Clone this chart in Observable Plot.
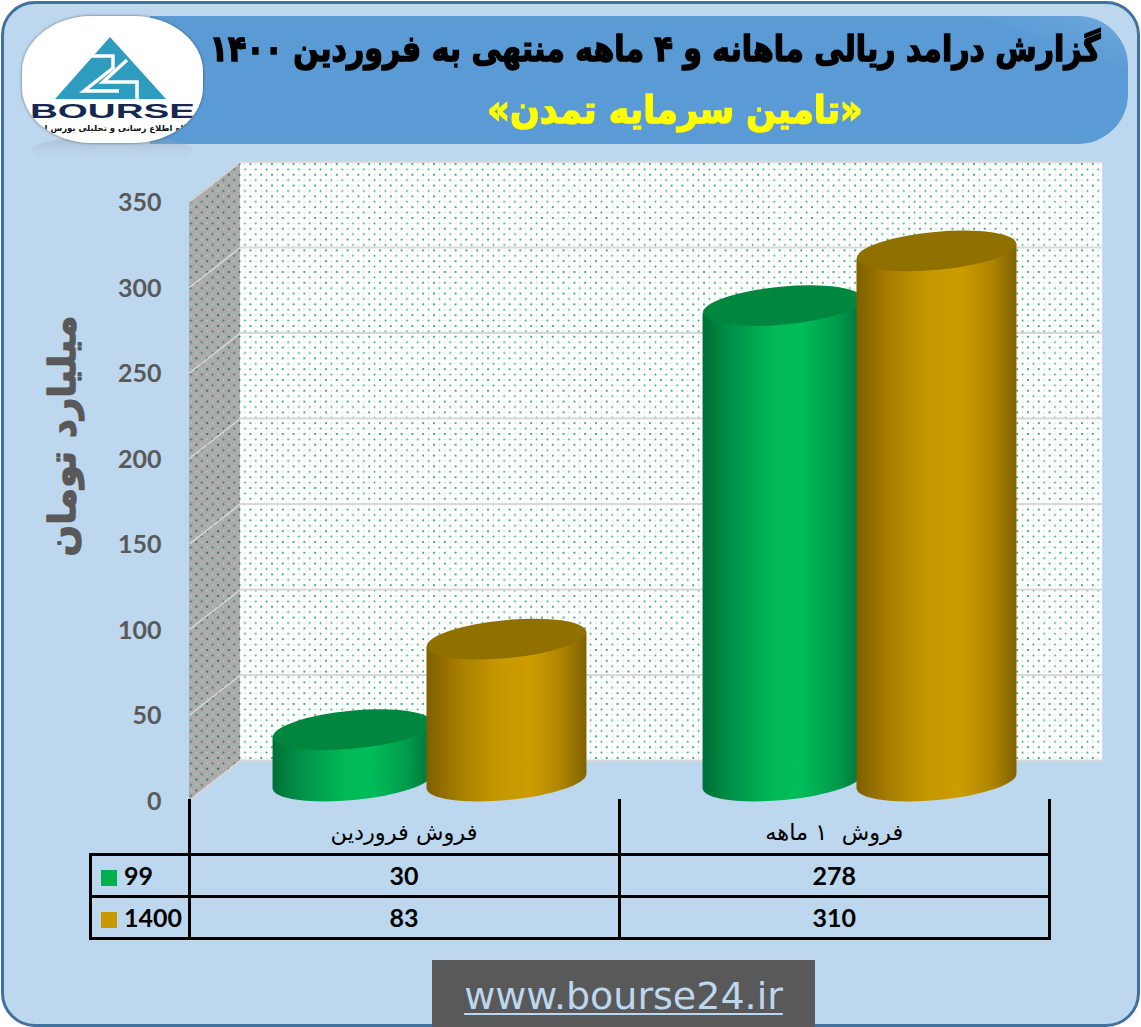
<!DOCTYPE html>
<html lang="fa">
<head>
<meta charset="utf-8">
<script src="https://cdn.jsdelivr.net/npm/d3@7"></script>
<script src="https://cdn.jsdelivr.net/npm/@observablehq/plot@0.6"></script>
<style>
  html,body{margin:0;padding:0;background:#fff;}
  #page{position:relative;width:1141px;height:1027px;overflow:hidden;}
  #panel{position:absolute;left:1px;top:1px;width:1133px;height:1020px;background:#BDD7EE;border:3px solid #41719C;border-radius:34px;}
  #header{position:absolute;left:150px;top:16px;width:978px;height:128px;border-radius:0 50px 50px 0;background:linear-gradient(200deg,#6fa9dd 0%,#5B9BD5 12%,#5B9BD5 100%);}
  #title,#subtitle{position:absolute;margin:0;font-family:"DejaVu Sans",sans-serif;font-weight:700;white-space:nowrap;direction:rtl;text-align:center;}
  #title{left:190px;width:930px;top:27px;font-size:30px;line-height:44px;color:#000;-webkit-text-stroke:1.3px #000;transform:scaleY(1.2);}
  #subtitle{left:443px;width:464px;top:87px;font-size:35px;line-height:46px;color:#FFFF00;-webkit-text-stroke:1.3px #FFFF00;transform:scaleY(1.1);}
  #logo{position:absolute;left:0;top:0;}
  #chart{position:absolute;left:0;top:0;}
  #chart svg{background:transparent;}
  #dataTable{position:absolute;left:89px;top:799px;border-collapse:collapse;table-layout:fixed;width:959px;font-family:Lato,sans-serif;color:#000;}
  #dataTable td{border:3px solid #000;padding:0;text-align:center;font-weight:700;font-size:25px;height:42px;box-sizing:border-box;}
  #dataTable td.key{text-align:left;white-space:nowrap;}
  #dataTable td.key i{display:inline-block;width:16px;height:16px;margin:0 7px 0 9px;vertical-align:-1px;}
  #dataTable tr.cats td{height:55px;border-top:0;font-family:"DejaVu Sans",sans-serif;font-weight:400;font-size:22.5px;direction:rtl;white-space:pre;padding-top:13px;}
  #dataTable tr.cats td.blank{border:0;border-bottom:3px solid #000;border-right:3px solid #000;padding:0;}
  #footer{position:absolute;left:432px;top:960px;width:383px;height:67px;background:#595959;color:#BDD7EE;font-family:"DejaVu Sans",sans-serif;font-size:38px;line-height:72px;text-align:center;}
  #footer span{text-decoration:underline;text-decoration-thickness:2px;text-underline-offset:4px;}
</style>
</head>
<body>
<div id="page">
  <div id="panel"></div>
  <div id="header"></div>
  <svg id="logo" width="230" height="175" viewBox="0 0 230 175">
    <defs>
      <clipPath id="logoClip"><rect x="22" y="16" width="181" height="127" rx="70" ry="56"/></clipPath>
      <linearGradient id="refl" x1="0" y1="0" x2="0" y2="1">
        <stop offset="0" stop-color="#8a9aa8" stop-opacity=".4"/>
        <stop offset="1" stop-color="#BDD7EE" stop-opacity="0"/>
      </linearGradient>
      <filter id="soft"><feDropShadow dx="0" dy="0" stdDeviation="1.5" flood-color="#333" flood-opacity=".7"/></filter>
    </defs>
    <ellipse cx="112" cy="150" rx="80" ry="14" fill="url(#refl)"/>
    <rect x="22" y="16" width="181" height="127" rx="70" ry="56" fill="#fff" filter="url(#soft)"/>
    <g clip-path="url(#logoClip)">
      <path d="M110,37 L166,99 L55,99 Z" fill="#2E9CBE"/>
      <path d="M88,56 L113,56 L113,68 L84,91 L119,91" fill="none" stroke="#fff" stroke-width="3.5"/>
      <path d="M127,60 L103,82 L137,82 L137,99" fill="none" stroke="#fff" stroke-width="3.5"/>
      <text x="30" y="118" textLength="165" lengthAdjust="spacingAndGlyphs" font-family="Liberation Sans" font-weight="700" font-size="20" fill="#16284f">BOURSE</text>
      <text x="112" y="131" text-anchor="middle" direction="rtl" font-family="DejaVu Sans" font-weight="700" font-size="8.5" fill="#111">پایگاه اطلاع رسانی و تحلیلی بورس ایران</text>
    </g>
  </svg>
  <h1 id="title"></h1>
  <h2 id="subtitle"></h2>
  <div id="chart"></div>
  <table id="dataTable"></table>
  <div id="footer"><span id="site"></span></div>
</div>
<script>
const titleText = "گزارش درامد ریالی ماهانه و ۴ ماهه منتهی به فروردین ۱۴۰۰";
const subtitleText = "«تامین سرمایه تمدن»";
const yAxisTitle = "میلیارد تومان";
const siteText = "www.bourse24.ir";
const categories = ["فروش فروردین", "فروش  ۱ ماهه"];
const seriesNames = ["99", "1400"];
const values99 = [30, 278];
const values1400 = [83, 310];
const yTicks = [0, 50, 100, 150, 200, 250, 300, 350];

const green = "#00B050", gold = "#C99A00";

// 3-D look: the wall sits behind the columns, the axis labels in front of them
const depth = 51 / 430;          // wall depth in category units
const backRise = 21 / 1.71;      // wall lift in value units
const frontDrop = 19 / 1.71;     // front edge drop in value units
const barOffset = 0.179, barHalf = 0.186, groupCentre = 0.5 + depth / 2;

document.getElementById("title").textContent = titleText;
document.getElementById("subtitle").textContent = subtitleText;
document.getElementById("site").textContent = siteText;

const defs = () => d3.create("svg:defs").html(`
  <pattern id="dotsWall" width="10.8" height="10.8" patternUnits="userSpaceOnUse">
    <rect width="10.8" height="10.8" fill="#fff"/>
    <circle cx="2" cy="2" r="1" fill="#12995a"/>
    <circle cx="7.4" cy="7.4" r=".9" fill="#1f9f63"/>
    <circle cx="7.4" cy="2" r=".6" fill="#8fd0b0"/>
    <circle cx="2" cy="7.4" r=".6" fill="#8fd0b0"/>
  </pattern>
  <pattern id="dotsSide" width="10.8" height="10.8" patternUnits="userSpaceOnUse">
    <rect width="10.8" height="10.8" fill="#ABABAB"/>
    <circle cx="2" cy="2" r="1.05" fill="#0f6b45"/>
    <circle cx="7.4" cy="7.4" r=".9" fill="#1d7350"/>
    <circle cx="7.4" cy="2" r=".5" fill="#e4ebe6"/>
    <circle cx="2" cy="7.4" r=".5" fill="#e4ebe6"/>
  </pattern>
  <linearGradient id="bodyGreen" x1="0" x2="1" y1="0" y2="0">
    <stop offset="0" stop-color="#006F36"/><stop offset=".18" stop-color="#009248"/>
    <stop offset=".45" stop-color="#00B955"/><stop offset=".62" stop-color="#00BC59"/>
    <stop offset=".85" stop-color="#009a4a"/><stop offset="1" stop-color="#00703a"/>
  </linearGradient>
  <linearGradient id="bodyGold" x1="0" x2="1" y1="0" y2="0">
    <stop offset="0" stop-color="#7f6000"/><stop offset=".2" stop-color="#a67d00"/>
    <stop offset=".45" stop-color="#C69800"/><stop offset=".65" stop-color="#CC9C00"/>
    <stop offset=".85" stop-color="#ad8400"/><stop offset="1" stop-color="#806200"/>
  </linearGradient>`).node();

// Turns each rect from Plot's scales into a tilted cylinder with an elliptical top
function cylinder(topFill) {
  return function (index, scales, values, dimensions, context, next) {
    const g = next(index, scales, values, dimensions, context);
    const ns = "http://www.w3.org/2000/svg";
    const tilt = 5.4, rad = tilt * Math.PI / 180, ry = 19;
    for (const r of Array.from(g.querySelectorAll("rect"))) {
      const x = +r.getAttribute("x"), y = +r.getAttribute("y");
      const w = +r.getAttribute("width"), h = +r.getAttribute("height");
      const rx = w / 2, cx = x + rx, d = rx * Math.sin(rad);
      const path = document.createElementNS(ns, "path");
      path.setAttribute("d",
        `M${x},${y + d}L${x},${y + h + d}` +
        `A${rx},${ry} ${-tilt} 0 0 ${x + w},${y + h - d}` +
        `L${x + w},${y - d}Z`);
      const top = document.createElementNS(ns, "ellipse");
      top.setAttribute("cx", cx); top.setAttribute("cy", y);
      top.setAttribute("rx", rx); top.setAttribute("ry", ry);
      top.setAttribute("transform", `rotate(${-tilt} ${cx} ${y})`);
      top.setAttribute("fill", topFill);
      r.replaceWith(path);
      path.after(top);
    }
    return g;
  };
}

const rows = (vals, sign) => vals.map((value, i) => ({
  x1: i + groupCentre + sign * barOffset - barHalf,
  x2: i + groupCentre + sign * barOffset + barHalf,
  value
}));

const sideWall = [
  {x: 0, low: -frontDrop, high: 350 - frontDrop},
  {x: depth, low: backRise, high: 350 + backRise}
];

const plot = Plot.plot({
  width: 1141, height: 1027,
  marginTop: 0, marginRight: 0, marginBottom: 0, marginLeft: 0,
  x: {type: "linear", domain: [0, 2], range: [189, 1049], axis: null},
  y: {type: "linear", domain: [0, 350], range: [781, 182.5], axis: null},
  style: {background: "transparent", overflow: "visible"},
  marks: [
    defs,
    Plot.rect([0], {x1: depth, x2: 2.005 + depth, y1: backRise, y2: 350 + backRise, fill: "url(#dotsWall)"}),
    Plot.area(sideWall, {x1: "x", y1: "low", y2: "high", fill: "url(#dotsSide)"}),
    Plot.ruleY(yTicks, {y: d => d + backRise, x1: depth, x2: 2.005 + depth, stroke: "#D9D9D9", strokeWidth: 2}),
    Plot.link(yTicks, {x1: 0, x2: depth, y1: d => d - frontDrop, y2: d => d + backRise, stroke: "#D9D9D9", strokeWidth: 1.5}),
    Plot.axisY(yTicks, {x: 0, anchor: "left", tickSize: 0, tickPadding: 28, dy: 20, label: null,
      tickFormat: d => String(d), fontFamily: "Lato", fontWeight: 700, fontSize: 25, fill: "#595959"}),
    Plot.text([yAxisTitle], {x: -0.293, y: 202, rotate: -90, fontFamily: "DejaVu Sans", fontWeight: 700,
      fontSize: 37, fill: "#595959", stroke: "#595959", strokeWidth: 1.4}),
    Plot.rect(rows(values99, -1), {x1: "x1", x2: "x2", y1: 0, y2: "value", fill: "url(#bodyGreen)", render: cylinder("#00863F")}),
    Plot.rect(rows(values1400, 1), {x1: "x1", x2: "x2", y1: 0, y2: "value", fill: "url(#bodyGold)", render: cylinder("#8F7000")})
  ]
});
document.getElementById("chart").appendChild(plot);

// The data table below the chart, with its colour keys
const table = d3.select("#dataTable");
const cg = table.append("colgroup");
cg.append("col").style("width", "98.5px");
cg.append("col").style("width", "430px");
cg.append("col").style("width", "430.5px");
const head = table.append("tr").attr("class", "cats");
head.append("td").attr("class", "blank");
categories.forEach(c => head.append("td").text(c));
[[seriesNames[0], green, values99], [seriesNames[1], gold, values1400]].forEach(([name, colour, vals]) => {
  const tr = table.append("tr");
  const key = tr.append("td").attr("class", "key");
  key.append("i").style("background", colour);
  key.append("span").text(name);
  vals.forEach(v => tr.append("td").text(v));
});
</script>
</body>
</html>
